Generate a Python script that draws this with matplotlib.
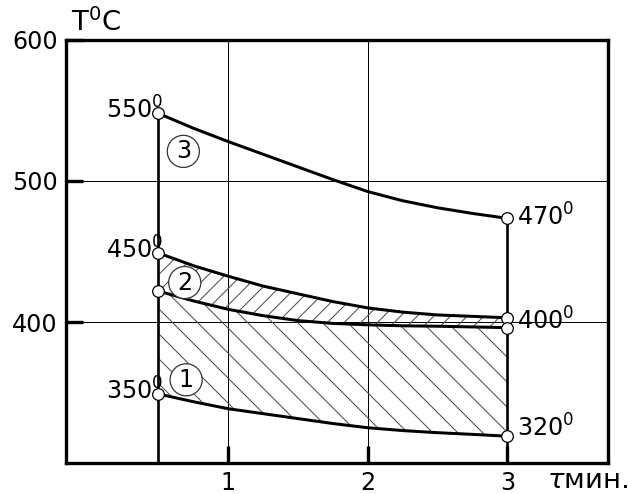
import matplotlib
matplotlib.use('Agg')
import matplotlib.pyplot as plt

# ---- data ----
tau = [0.5, 0.75, 1.0, 1.25, 1.5, 1.75, 2.0, 2.25, 2.5, 2.75, 3.0]
curve3 = [548, 537.5, 528, 519, 510, 501, 492.5, 486, 481, 477, 473.5]
curve2_upper = [449, 440, 432.5, 425.5, 420, 414.5, 410, 407, 405, 404, 403]
curve2_lower = [422, 415, 409, 404.5, 401, 399, 398, 397.3, 397, 396.5, 396]
curve1 = [349, 343.5, 338.5, 335, 331.5, 328, 325, 323, 321.5, 320.3, 319]

xticks = [1, 2, 3]
yticks = [400, 500, 600]
grid_x = [1, 2]
grid_y = [400, 500]
xlim = (-0.16, 3.72)
ylim = (300, 600)

left_labels = ['550$^0$', '450$^0$', '350$^0$']
right_labels = ['470$^0$', '400$^0$', '320$^0$']
zone_digits = ['3', '2', '1']
zone_x = [0.68, 0.69, 0.70]
zone_y = [521, 428, 359]

DPI = 150
S = 0.8  # scale factor relative to a 120-dpi sizing
plt.rcParams['font.family'] = ['DejaVu Sans']
plt.rcParams['mathtext.fontset'] = 'dejavusans'
plt.rcParams['hatch.linewidth'] = 0.48

fig = plt.figure(figsize=(628 / DPI, 494 / DPI), dpi=DPI)
ax = fig.add_axes([66 / 628, 1 - 463 / 494, (608 - 66) / 628, (463 - 40) / 494])
ax.set_xlim(*xlim)
ax.set_ylim(*ylim)

# grid
for gx in grid_x:
    ax.axvline(gx, color='black', lw=0.6 * S, zorder=1)
for gy in grid_y:
    ax.axhline(gy, color='black', lw=0.6 * S, zorder=1)

# hatched zones
ax.fill_between(tau, curve1, curve2_lower, facecolor='none', edgecolor='#4a4a4a',
                hatch='\\\\', linewidth=0, zorder=2)
ax.fill_between(tau, curve2_lower, curve2_upper, facecolor='none', edgecolor='#4a4a4a',
                hatch='///', linewidth=0, zorder=2)

# vertical boundaries
ax.vlines(tau[0], ylim[0], curve3[0], color='black', lw=1.6 * S, zorder=3)
ax.vlines(tau[-1], ylim[0], curve3[-1], color='black', lw=1.6 * S, zorder=3)

# curves
for c in (curve3, curve2_upper, curve2_lower, curve1):
    ax.plot(tau, c, color='black', lw=1.8 * S, zorder=4, solid_capstyle='round',
            solid_joinstyle='round')
    ax.plot([tau[0], tau[-1]], [c[0], c[-1]], 'o', ms=7 * S, mfc='white', mec='black',
            mew=0.6, zorder=5)

fs = 14.3 * S
# left labels
for lab, yv in zip(left_labels, [curve3[0], curve2_upper[0], curve1[0]]):
    ax.annotate(lab, (tau[0], yv), xytext=(3 * S, 2 * S), textcoords='offset points',
                ha='right', va='center', fontsize=fs, zorder=6)
# right labels
right_y = [curve3[-1], (curve2_upper[-1] + curve2_lower[-1]) / 2, curve1[-1]]
right_dy = [1, 1, 5]
for lab, yv, dy in zip(right_labels, right_y, right_dy):
    ax.annotate(lab, (tau[-1], yv), xytext=(6 * S, dy * S), textcoords='offset points',
                ha='left', va='center', fontsize=fs, zorder=6)

# circled zone numbers
for d, zx, zy in zip(zone_digits, zone_x, zone_y):
    ax.text(zx, zy, d, fontsize=fs, ha='center', va='center', zorder=7,
            bbox=dict(boxstyle='circle,pad=0.17', fc='white', ec='#333333', lw=0.6))

# axes styling
for sp in ax.spines.values():
    sp.set_linewidth(2.0 * S)
ax.set_xticks(xticks)
ax.set_yticks(yticks)
ax.tick_params(direction='in', length=10 * S, width=2.0 * S, labelsize=fs, pad=5 * S)

fig.text(71 / 628, 1 - 31 / 494, 'T$^0$C', fontsize=16.5 * S, va='baseline', ha='left')
fig.text(547 / 628, 1 - 488 / 494, r'$\tau$мин.', fontsize=16.5 * S, va='baseline', ha='left')

fig.savefig('out.png', dpi=DPI)
